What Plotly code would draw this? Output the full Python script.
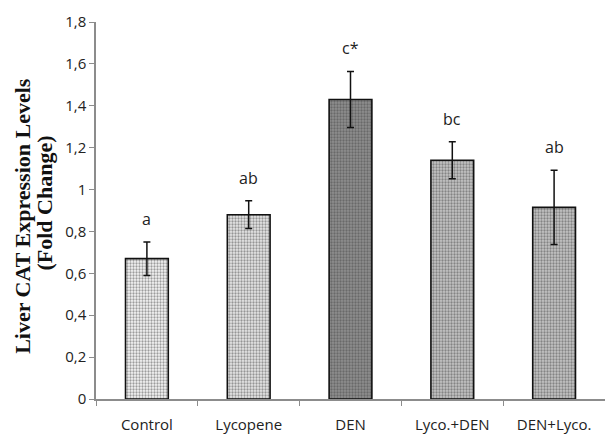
import plotly.graph_objects as go

categories = ["Control", "Lycopene", "DEN", "Lyco.+DEN", "DEN+Lyco."]
values = [0.67, 0.88, 1.43, 1.14, 0.915]
errors = [0.08, 0.066, 0.134, 0.088, 0.177]
letters = ["a", "ab", "c*", "bc", "ab"]
y_tickvals = [0, 0.2, 0.4, 0.6, 0.8, 1.0, 1.2, 1.4, 1.6, 1.8]
y_ticktext = ["0", "0,2", "0,4", "0,6", "0,8", "1", "1,2", "1,4", "1,6", "1,8"]

bg_colors = ["#f5f5f5", "#e6e6e6", "#8e8e8e", "#c4c4c4", "#c4c4c4"]
fg_colors = ["#dddddd", "#c6c6c6", "#4a4a4a", "#8a8a8a", "#8a8a8a"]

tick_font = dict(family="Open Sans, DejaVu Sans", size=15, color="#222222")
letter_font = dict(family="Open Sans, DejaVu Sans", size=16, color="#222222")

fig = go.Figure()
fig.add_trace(go.Bar(
    x=categories,
    y=values,
    width=0.42,
    marker=dict(
        color=bg_colors,
        line=dict(color="#111111", width=1.6),
        pattern=dict(shape=".", fgcolor=fg_colors, size=3, solidity=0.45, fillmode="overlay"),
    ),
    error_y=dict(type="data", array=errors, visible=True, color="#111111", thickness=1.5, width=3.5),
    showlegend=False,
))

for cat, v, e, t in zip(categories, values, errors, letters):
    fig.add_annotation(x=cat, y=v + e, text=t, showarrow=False, yshift=23,
                       font=letter_font, xanchor="center", yanchor="middle")

title_font = dict(family="Liberation Serif, Times New Roman, serif", size=22, color="#111111")
fig.add_annotation(xref="paper", yref="paper", x=-0.146, y=0.485, text="<b>Liver CAT Expression Levels</b>",
                   textangle=-90, showarrow=False, font=title_font, xanchor="center", yanchor="middle")
fig.add_annotation(xref="paper", yref="paper", x=-0.101, y=0.52, text="<b>(Fold Change)</b>",
                   textangle=-90, showarrow=False, font=title_font, xanchor="center", yanchor="middle")

fig.update_layout(
    width=605, height=442,
    margin=dict(l=96, r=0, t=22, b=43),
    paper_bgcolor="white", plot_bgcolor="white",
)
fig.update_xaxes(
    showline=True, linecolor="#8c8c8c", linewidth=1.5,
    ticks="outside", tickson="boundaries", ticklen=5, tickcolor="#8c8c8c", tickwidth=1,
    tickfont=tick_font, showgrid=False, zeroline=False, ticklabelstandoff=11,
)
fig.update_yaxes(
    range=[0, 1.8], tickvals=y_tickvals, ticktext=y_ticktext,
    showline=True, linecolor="#8c8c8c", linewidth=1.5,
    ticks="outside", ticklen=5, tickcolor="#8c8c8c", tickwidth=1,
    tickfont=tick_font, showgrid=False, zeroline=False,
)

fig.write_html("out.html", config={"displayModeBar": False},
               post_script="document.body.style.margin='0';document.body.style.overflow='hidden';")
